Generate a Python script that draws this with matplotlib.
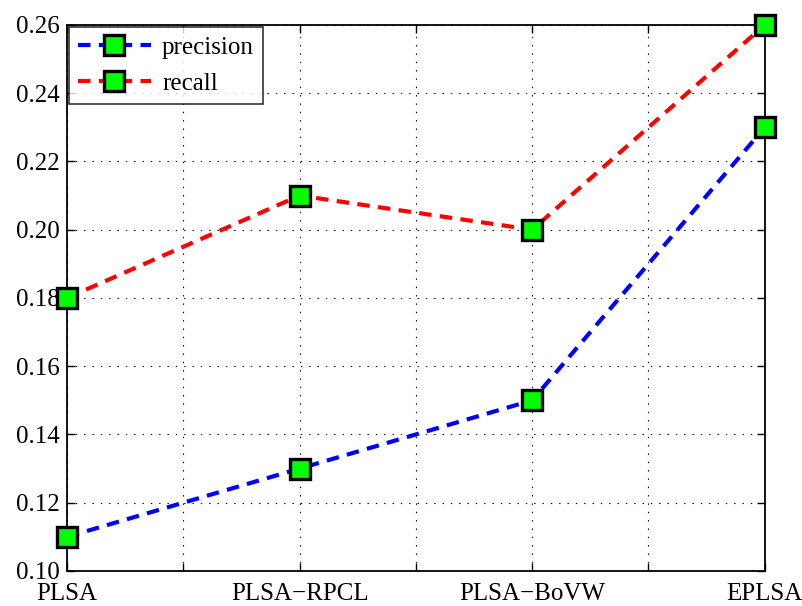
import matplotlib.pyplot as plt
import numpy as np

# Metode și valori
methods = ['PLSA', 'PLSA\u2212RPCL', 'PLSA\u2212BoVW', 'EPLSA']
precision = [0.11, 0.13, 0.15, 0.23]
recall = [0.18, 0.21, 0.20, 0.26]
yticks = [0.10, 0.12, 0.14, 0.16, 0.18, 0.20, 0.22, 0.24, 0.26]

plt.rcParams['font.family'] = ['Liberation Serif', 'DejaVu Serif']
plt.rcParams['lines.scale_dashes'] = False

fig = plt.figure(figsize=(8.03, 6.06), dpi=100)
ax = fig.add_axes([0.0834, 0.0578, 0.869, 0.901])

x = np.arange(len(methods))
style = dict(lw=3.0, dashes=(9, 6), marker='s', markersize=15,
             markerfacecolor='#00ff00', markeredgecolor='black',
             markeredgewidth=2.4, clip_on=False, zorder=3)
ax.plot(x, precision, color='blue', label='precision', **style)
ax.plot(x, recall, color='red', label='recall', **style)

ax.set_xlim(0, 3)
ax.set_ylim(0.10, 0.26)
ax.set_xticks(x)
ax.set_xticklabels(methods)
ax.set_xticks(np.arange(0.5, 3, 1.0), minor=True)
ax.set_yticks(yticks)
ax.set_yticklabels([f'{v:.2f}' for v in yticks])

ax.tick_params(which='both', direction='in', length=6, width=1,
               top=True, right=True, labelsize=18)
ax.tick_params(axis='x', pad=9)
ax.tick_params(axis='y', pad=5)
ax.grid(True, which='both', linestyle=(0, (1, 5)), color='black', lw=0.8)
for s in ax.spines.values():
    s.set_linewidth(1.3)

leg = ax.legend(loc='upper left', fontsize=18, frameon=True, fancybox=False,
                edgecolor='black', borderaxespad=0.1, handlelength=2.9,
                borderpad=0.35, labelspacing=0.55, handletextpad=0.45)
leg.get_frame().set_linewidth(1.2)

plt.savefig('out.png', dpi=100)
